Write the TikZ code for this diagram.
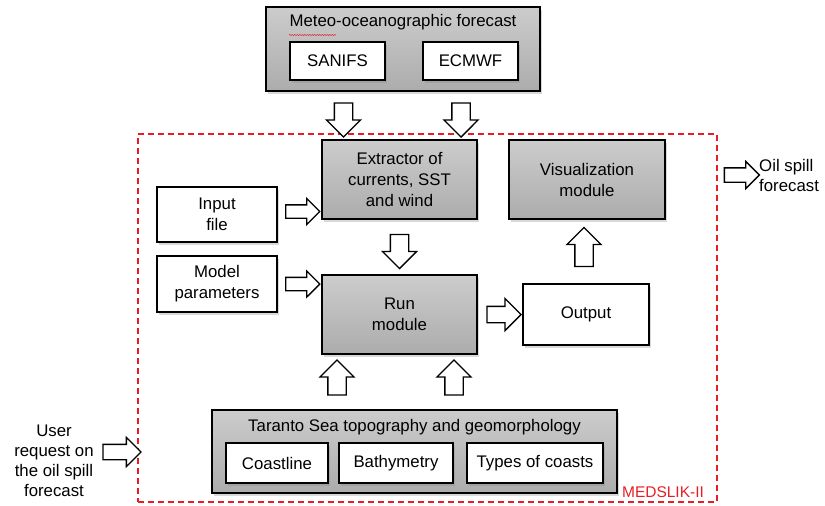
\documentclass[tikz,border=0pt]{standalone}
\usepackage{fontspec}
\setmainfont{Liberation Sans}
\usetikzlibrary{shapes.arrows,shadows,decorations.pathmorphing}
\definecolor{medred}{RGB}{228,30,36}
\begin{document}
\begin{tikzpicture}[x=1pt,y=-1pt,
  every node/.style={font=\fontsize{16.8}{21}\selectfont, align=center, inner sep=0pt},
  box/.style={draw=black, line width=1.5pt, fill=white,
    drop shadow={shadow xshift=1.5pt, shadow yshift=-2.5pt, opacity=0.3}},
  graybox/.style={box, top color=gray!40, middle color=gray!15, bottom color=gray!65},
  arrowL/.style={single arrow, draw=black, fill=white, line width=1.3pt,
    inner xsep=0pt, inner ysep=8.5pt, single arrow head extend=8pt, minimum height=34pt},
  arrowS/.style={single arrow, draw=black, fill=white, line width=1.3pt,
    inner xsep=0pt, inner ysep=6pt, single arrow head extend=6.5pt, minimum height=34pt},
  lbl/.style={font=\fontsize{16.8}{20}\selectfont}
]
\useasboundingbox (0,0) rectangle (825,506);

% red dashed MEDSLIK-II frame
\node[draw=medred, line width=1.2pt, dash pattern=on 6pt off 4pt,
      minimum width=579, minimum height=368] (medslik) at (427.5,318) {};
\node[text=medred, font=\fontsize{15.5}{18}\selectfont] (medtext) at (663,492) {MEDSLIK-II};

% Meteo-oceanographic forecast
\node[graybox, minimum width=274, minimum height=84] (meteo) at (403,49) {};
\node (meteotitle) at (403,22) {Meteo-oceanographic forecast};
\draw[medred, line width=0.5pt, decorate, decoration={snake, amplitude=0.6pt, segment length=2.5pt}]
  (289,35) -- (336,35);
\node[box, minimum width=95, minimum height=38] (sanifs) at (337.5,61) {SANIFS};
\node[box, minimum width=95, minimum height=38] (ecmwf) at (470.5,61) {ECMWF};

% modules
\node[graybox, minimum width=155, minimum height=79] (ext) at (399.5,179.5)
  {Extractor of\\currents, SST\\and wind};
\node[graybox, minimum width=156, minimum height=79] (viz) at (587,179.5)
  {Visualization\\module};
\node[box, minimum width=120, minimum height=55] (input) at (217,214.5) {Input\\file};
\node[box, minimum width=120, minimum height=56] (model) at (217,284) {Model\\parameters};
\node[graybox, minimum width=155, minimum height=79] (run) at (399.5,314.5) {Run\\module};
\node[box, minimum width=126, minimum height=61] (output) at (586,314.5) {Output};

% Taranto
\node[graybox, minimum width=405, minimum height=83] (taranto) at (414.5,451.5) {};
\node (tartitle) at (414.5,427) {Taranto Sea topography and geomorphology};
\node[box, minimum width=102, minimum height=40] (coast) at (277,463) {Coastline};
\node[box, minimum width=114, minimum height=40] (bathy) at (396,463) {Bathymetry};
\node[box, minimum width=136, minimum height=40] (types) at (535,463) {Types of coasts};

% outside labels
\node[lbl] (user) at (54,461) {User\\request on\\the oil spill\\forecast};
\node[lbl, align=left, anchor=west] (oil) at (759,175) {Oil spill\\forecast};

% block arrows
\coordinate (a1) at ([xshift=6pt]sanifs.south);
\coordinate (a2) at ([xshift=-9.5pt]ecmwf.south);
\path (a1 |- meteo.south) -- (a1 |- ext.north) node[midway, arrowL, rotate=-90] {};
\path (a2 |- meteo.south) -- (a2 |- ext.north) node[midway, arrowL, rotate=-90] {};

\coordinate (b1) at ([yshift=3pt]input.east);
\path (b1) -- (b1 -| ext.west) node[midway, arrowS] {};
\path (model.east) -- (model.east -| run.west) node[midway, arrowS] {};
\path (ext.south) -- (run.north) node[midway, arrowL, rotate=-90] {};
\path (run.east) -- (run.east -| output.west) node[midway, arrowL, inner ysep=7.5pt] {};
\coordinate (c1) at ([xshift=-2pt]output.north);
\path (c1) -- (c1 |- viz.south) node[midway, arrowL, minimum height=39pt, rotate=90] {};

\coordinate (d1) at (337,0);
\coordinate (d2) at (454,0);
\path (d1 |- taranto.north) -- (d1 |- run.south) node[midway, arrowL, minimum height=35pt, rotate=90] {};
\path (d2 |- taranto.north) -- (d2 |- run.south) node[midway, arrowL, minimum height=35pt, rotate=90] {};

\coordinate (u1) at (99,452);
\path (u1) -- (u1 -| medslik.west) node[midway, arrowL, inner ysep=7pt, single arrow head extend=7pt, minimum height=38pt] {};
\coordinate (o1) at (719,175);
\path (medslik.east |- o1) -- (oil.west) node[midway, arrowL, inner ysep=6.5pt, single arrow head extend=6.5pt, minimum height=35pt] {};
\end{tikzpicture}
\end{document}
